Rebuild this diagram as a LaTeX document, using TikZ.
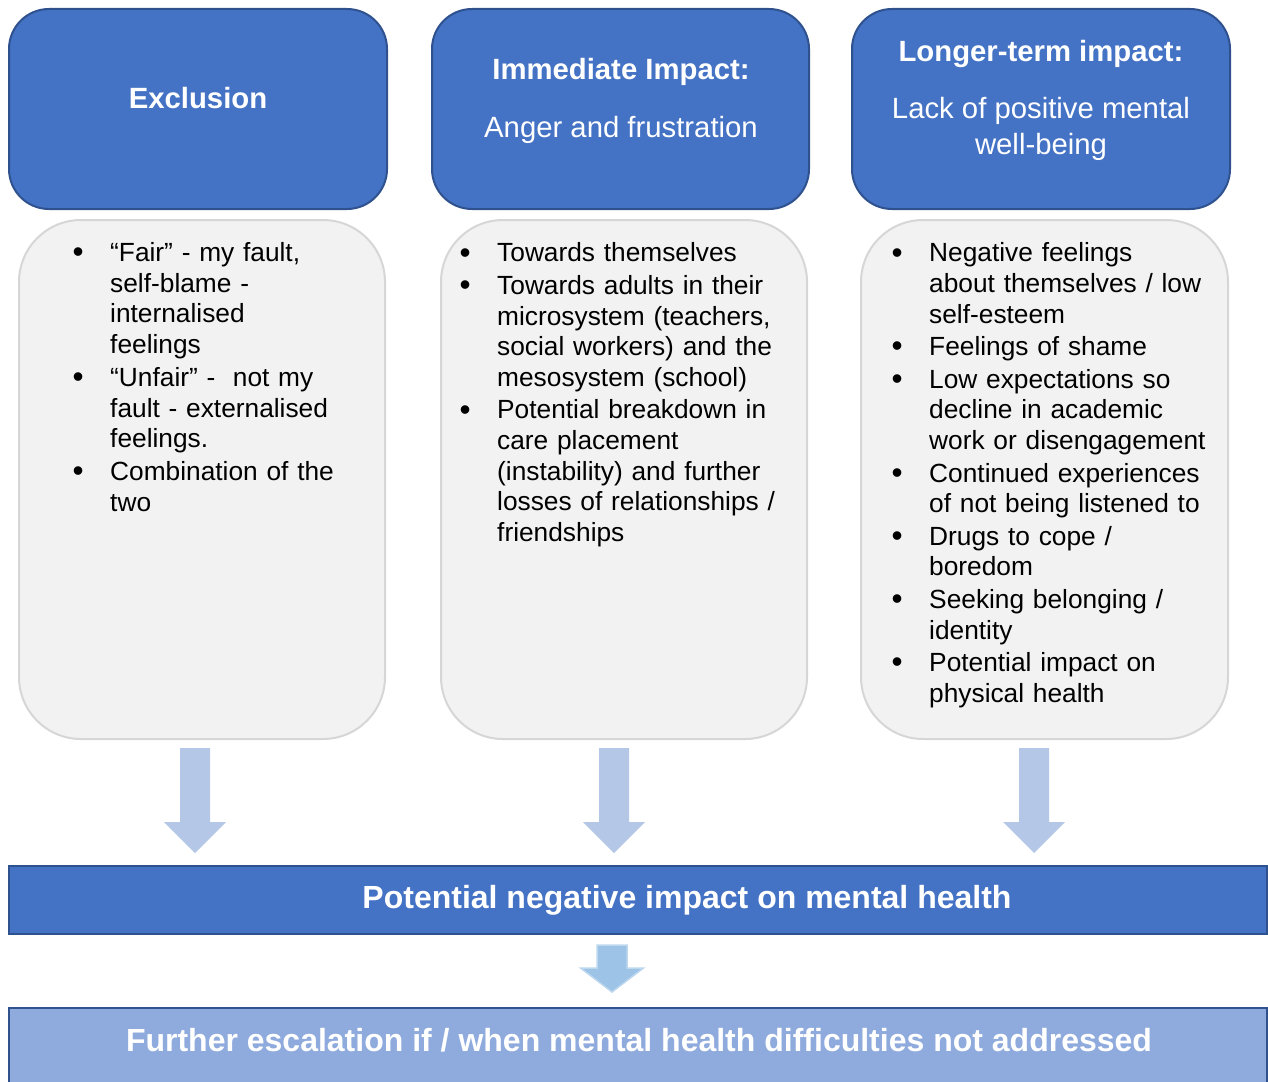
\documentclass[tikz,border=0pt]{standalone}
\usepackage{fontspec}
\setmainfont{Liberation Sans}
\definecolor{mainblue}{HTML}{4472C4}
\definecolor{darkblue}{HTML}{2F528F}
\definecolor{panelgray}{HTML}{F2F2F2}
\definecolor{panelline}{HTML}{D6D6D6}
\definecolor{arrowblue}{HTML}{B4C7E7}
\definecolor{smallarrow}{HTML}{9DC3E6}
\definecolor{smallarrowline}{HTML}{BDD7EE}
\definecolor{lightbar}{HTML}{8FAADC}
\newcommand{\nl}{\hfil\break}
\newcommand{\bitem}[1]{\par\hangindent=38pt\hangafter=1\noindent\makebox[38pt][l]{\hspace*{0.5pt}\raisebox{-1.2pt}{\scalebox{1.2}{\textbullet}}}#1}
\tikzset{
  headbox/.style={draw=darkblue, line width=2pt, fill=mainblue, rounded corners=40pt},
  panel/.style={draw=panelline, line width=2pt, fill=panelgray, rounded corners=62pt},
  barbox/.style={draw=darkblue, line width=2.5pt},
  headtitle/.style={anchor=base, text=white, inner sep=0pt, font=\fontsize{29.3}{33}\selectfont\bfseries},
  headsub/.style={anchor=base, text=white, inner sep=0pt, font=\fontsize{29.3}{33}\selectfont},
  bartext/.style={anchor=base, text=white, inner sep=0pt, font=\fontsize{32}{36}\selectfont\bfseries},
  bodytext/.style={anchor=north west, inner sep=0pt, text width=340pt, align=left,
    font=\fontsize{26.3}{30.6}\selectfont},
  blockarrow/.style={fill=arrowblue},
  smallblock/.style={fill=smallarrow, draw=smallarrowline, line width=1.5pt}
}
\begin{document}
\begin{tikzpicture}[x=1pt,y=-1pt]
\useasboundingbox (0,0) rectangle (1268,1081);
\clip (0,0) rectangle (1268,1081);

% header boxes
\path[headbox] (9,9) rectangle (387,209);
\path[headbox] (432,9) rectangle (809,209);
\path[headbox] (852,9) rectangle (1230,209);
\node[headtitle] (t1) at (198,108.5) {Exclusion};
\node[headtitle] (t2) at (621,79.5) {Immediate Impact:};
\node[headsub] (s2) at (621,137.5) {Anger and frustration};
\node[headtitle] (t3) at (1041,61.5) {Longer-term impact:};
\node[headsub] (s3a) at (1041,118.5) {Lack of positive mental};
\node[headsub] (s3b) at (1041,154.5) {well-being};

% panels
\path[panel] (19,220) rectangle (385,739);
\path[panel] (441,220) rectangle (807,739);
\path[panel] (861,220) rectangle (1228,739);

\node[bodytext] (b1) at (72,228.5) {\setlength{\parskip}{2.4pt}%
\bitem{\rule{0pt}{22pt}“Fair” - my fault,\nl self-blame -\nl internalised\nl feelings}
\bitem{“Unfair” -\ \ not my\nl fault - externalised\nl feelings.}
\bitem{Combination of the\nl two}\par};

\node[bodytext] (b2) at (459,229) {\setlength{\parskip}{2pt}%
\bitem{\rule{0pt}{22pt}Towards themselves}
\bitem{Towards adults in their\nl microsystem (teachers,\nl social workers) and the\nl mesosystem (school)}
\bitem{Potential breakdown in\nl care placement\nl (instability) and further\nl losses of relationships /\nl friendships}\par};

\node[bodytext] (b3) at (891,229) {\setlength{\parskip}{2pt}%
\bitem{\rule{0pt}{22pt}Negative feelings\nl about themselves / low\nl self-esteem}
\bitem{Feelings of shame}
\bitem{Low expectations so\nl decline in academic\nl work or disengagement}
\bitem{Continued experiences\nl of not being listened to}
\bitem{Drugs to cope /\nl boredom}
\bitem{Seeking belonging /\nl identity}
\bitem{Potential impact on\nl physical health}\par};

% block arrows
\foreach \cx in {195,614,1034}{
  \path[blockarrow] (\cx-15,748) -- (\cx+15,748) -- (\cx+15,822) -- (\cx+31,822)
    -- (\cx,853) -- (\cx-31,822) -- (\cx-15,822) -- cycle;
}

% first bar
\path[barbox, fill=mainblue] (9,866) rectangle (1267,934);
\node[bartext] (bar1) at (687,908.5) {Potential negative impact on mental health};

% small arrow
\path[smallblock] (597,945) -- (627,945) -- (627,968) -- (643.5,968)
  -- (612,992) -- (580.5,968) -- (597,968) -- cycle;

% second bar
\path[barbox, fill=lightbar] (9,1008) rectangle (1267,1100);
\node[bartext] (bar2) at (639,1051.5) {Further escalation if / when mental health difficulties not addressed};
\end{tikzpicture}
\end{document}
